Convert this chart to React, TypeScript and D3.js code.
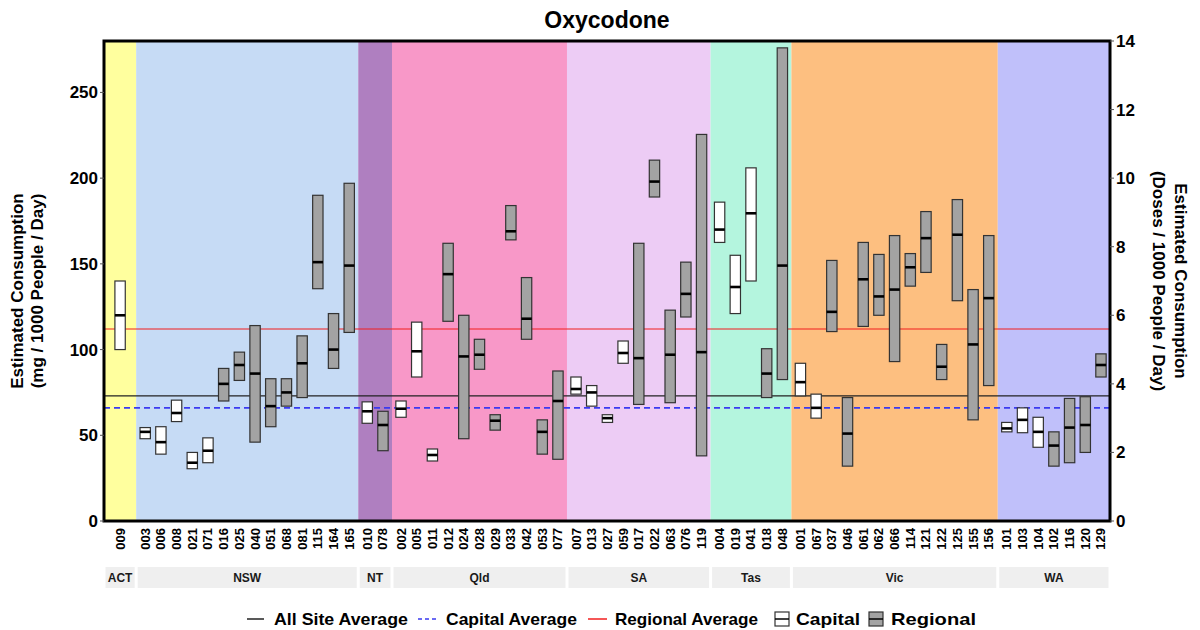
import React from 'react';
import * as d3 from 'd3';

// sites, ordered as on the x axis
const siteIds = [
  '009',
  '003', '006', '008', '021', '071', '016', '025', '040', '051', '068', '081', '115', '164', '165',
  '010', '078',
  '002', '005', '011', '012', '024', '028', '029', '033', '042', '053', '077',
  '007', '013', '027', '059', '017', '022', '063', '076', '119',
  '004', '019', '041', '018', '048',
  '001', '067', '037', '046', '061', '062', '066', '114', '121', '122', '125', '155', '156',
  '101', '103', '104', '102', '116', '120', '129',
];
const siteState = [
  'ACT',
  ...Array(14).fill('NSW'),
  'NT', 'NT',
  ...Array(11).fill('Qld'),
  ...Array(9).fill('SA'),
  ...Array(5).fill('Tas'),
  ...Array(13).fill('Vic'),
  ...Array(7).fill('WA'),
];
// C = capital, R = regional
const siteType = [
  'C',
  'C', 'C', 'C', 'C', 'C', 'R', 'R', 'R', 'R', 'R', 'R', 'R', 'R', 'R',
  'C', 'R',
  'C', 'C', 'C', 'R', 'R', 'R', 'R', 'R', 'R', 'R', 'R',
  'C', 'C', 'C', 'C', 'R', 'R', 'R', 'R', 'R',
  'C', 'C', 'C', 'R', 'R',
  'C', 'C', 'R', 'R', 'R', 'R', 'R', 'R', 'R', 'R', 'R', 'R', 'R',
  'C', 'C', 'C', 'R', 'R', 'R', 'R',
];
// mg / 1000 people / day
const lows = [
  100,
  48, 39, 58, 30.5, 34, 70, 82, 46, 55, 67, 72, 135.5, 89, 110,
  57, 41,
  60.5, 84, 35, 116.5, 48, 88.5, 53, 164, 106, 39, 36,
  74, 67, 57.5, 92, 68, 189, 69, 119, 38,
  162.5, 121, 140, 72, 82.5,
  73, 60, 110.5, 32, 113.5, 120, 93, 137, 145, 82.5, 128.5, 59, 79,
  52, 51.5, 43, 32, 34, 40, 84,
];
const medians = [
  120,
  52, 46, 63, 34, 41, 80, 91, 86, 67, 75, 92, 151, 100, 149,
  64, 56,
  65.5, 99, 38.5, 144, 96, 97, 58.5, 169, 118, 52, 70,
  77, 75, 60, 98, 95, 198, 97, 132.5, 98.5,
  170, 136.5, 179.5, 86, 149,
  81, 66, 122, 51, 141, 131, 135, 148, 165, 90, 167, 103, 130,
  54, 59, 52, 44, 54.5, 56, 91,
];
const highs = [
  140,
  54.5, 55, 70.5, 40, 48.5, 89, 98.5, 114, 83, 83, 108, 190, 121, 197,
  69.5, 64,
  70, 116, 42, 162, 120, 106, 62, 184, 142, 59, 87.5,
  84, 79, 62, 105, 162, 210.5, 123, 151, 225.5,
  186, 155, 206, 100.5, 276,
  92, 74, 152, 72, 162.5, 155.5, 166.5, 156, 180.5, 103, 187.5, 135, 166.5,
  57.5, 66, 60.5, 52, 71.5, 72.5, 97.5,
];

const states = ['ACT', 'NSW', 'NT', 'Qld', 'SA', 'Tas', 'Vic', 'WA'];
const stateColors = ['#FFFF9E', '#C6DBF5', '#AF7FC0', '#F898C8', '#EDCCF5', '#B4F5DE', '#FDBF80', '#C0C0FA'];

const allSiteAvg = 73;
const capitalAvg = 66;
const regionalAvg = 112;

const leftTicks = [0, 50, 100, 150, 200, 250];
const rightTicks = [0, 2, 4, 6, 8, 10, 12, 14];

const W = 1200;
const H = 630;
const M = { left: 104, right: 1110, top: 41, bottom: 521 };
const FONT = '"Liberation Sans", Arial, sans-serif';

export default function App() {
  // panel widths in site units (a single-site panel gets a bit more room)
  const panels = states.map((s) => {
    const n = siteState.filter((d) => d === s).length;
    return { state: s, n, width: Math.max(n, 1.9) + 0.15 };
  });
  let acc = 0;
  const panelStart: Record<string, number> = {};
  panels.forEach((p) => {
    panelStart[p.state] = acc;
    acc += p.width;
  });
  const total = acc;

  const x = d3.scaleLinear().domain([0, total]).range([M.left, M.right]);
  const y = d3.scaleLinear().domain([0, 280]).range([M.bottom, M.top]);
  const y2 = d3.scaleLinear().domain([0, 14]).range([M.bottom, M.top]);
  const unit = x(1) - x(0);

  const idxInState: number[] = [];
  const seen: Record<string, number> = {};
  siteState.forEach((s, i) => {
    idxInState[i] = seen[s] ?? 0;
    seen[s] = idxInState[i] + 1;
  });
  const siteX = siteIds.map((_, i) => {
    const p = panels.find((q) => q.state === siteState[i])!;
    return x(panelStart[p.state] + (p.width - p.n) / 2 + idxInState[i] + 0.5);
  });
  const boxW = unit * 0.66;

  return (
    <svg width={W} height={H} style={{ position: 'absolute', left: 0, top: 0, background: '#fff' }} fontFamily={FONT}>
      <text x={(M.left + M.right) / 2} y={28} textAnchor="middle" fontSize={23} fontWeight="bold">Oxycodone</text>

      {/* panel backgrounds */}
      {panels.map((p, i) => (
        <rect key={p.state} x={x(panelStart[p.state])} y={M.top} width={x(p.width) - x(0)} height={M.bottom - M.top} fill={stateColors[i]} />
      ))}

      {/* averages */}
      <line x1={M.left} x2={M.right} y1={y(regionalAvg)} y2={y(regionalAvg)} stroke="#f21f1f" strokeWidth={1.2} />
      <line x1={M.left} x2={M.right} y1={y(allSiteAvg)} y2={y(allSiteAvg)} stroke="#222" strokeWidth={1.2} />
      <line x1={M.left} x2={M.right} y1={y(capitalAvg)} y2={y(capitalAvg)} stroke="#3a3af0" strokeWidth={1.6} strokeDasharray="6,4" />

      {/* boxes */}
      {siteIds.map((id, i) => (
        <g key={id + i}>
          <rect x={siteX[i] - boxW / 2} y={y(highs[i])} width={boxW} height={y(lows[i]) - y(highs[i])}
            fill={siteType[i] === 'C' ? '#ffffff' : '#a3a3a3'} stroke="#333" strokeWidth={1.2} />
          <line x1={siteX[i] - boxW / 2} x2={siteX[i] + boxW / 2} y1={y(medians[i])} y2={y(medians[i])} stroke="#000" strokeWidth={2.6} />
        </g>
      ))}

      {/* frame */}
      <rect x={M.left} y={M.top} width={M.right - M.left} height={M.bottom - M.top} fill="none" stroke="#000" strokeWidth={3} />

      {/* left axis */}
      {leftTicks.map((t) => (
        <g key={'l' + t}>
          <line x1={M.left - 4} x2={M.left} y1={y(t)} y2={y(t)} stroke="#555" strokeWidth={1} />
          <text x={M.left - 6} y={y(t) + 6} textAnchor="end" fontSize={17} fontWeight="bold">{t}</text>
        </g>
      ))}
      {/* right axis */}
      {rightTicks.map((t) => (
        <g key={'r' + t}>
          <line x1={M.right} x2={M.right + 4} y1={y2(t)} y2={y2(t)} stroke="#555" strokeWidth={1} />
          <text x={M.right + 6} y={y2(t) + 6} textAnchor="start" fontSize={17} fontWeight="bold">{t}</text>
        </g>
      ))}

      <g transform={`translate(23, ${(M.top + M.bottom) / 2 + 10}) rotate(-90)`}>
        <text textAnchor="middle" fontSize={17} fontWeight="bold">Estimated Consumption</text>
        <text y={20} textAnchor="middle" fontSize={17} fontWeight="bold">(mg / 1000 People / Day)</text>
      </g>
      <g transform={`translate(1175, ${(M.top + M.bottom) / 2}) rotate(90)`}>
        <text textAnchor="middle" fontSize={17} fontWeight="bold">Estimated Consumption</text>
        <text y={22} textAnchor="middle" fontSize={17} fontWeight="bold">(Doses / 1000 People / Day)</text>
      </g>

      {/* site labels */}
      {siteIds.map((id, i) => (
        <text key={'s' + i} transform={`translate(${siteX[i] + 4.5}, 528) rotate(-90)`} textAnchor="end" fontSize={13} fontWeight="bold">{id}</text>
      ))}

      {/* state strips */}
      {panels.map((p) => {
        const x0 = x(panelStart[p.state]) + 1.5;
        const x1 = x(panelStart[p.state] + p.width) - 1.5;
        return (
          <g key={'st' + p.state}>
            <rect x={x0} y={567} width={x1 - x0} height={21} fill="#efefef" />
            <text x={(x0 + x1) / 2} y={582} textAnchor="middle" fontSize={12} fontWeight="bold" fill="#1a1a1a">{p.state}</text>
          </g>
        );
      })}

      {/* legend */}
      <g fontSize={17} fontWeight="bold">
        <line x1={247} x2={264} y1={619} y2={619} stroke="#222" strokeWidth={1.5} />
        <text x={274} y={625} textLength={134} lengthAdjust="spacingAndGlyphs">All Site Average</text>
        <line x1={418} x2={438} y1={619} y2={619} stroke="#3a3af0" strokeWidth={1.6} strokeDasharray="4,3" />
        <text x={446} y={625} textLength={131} lengthAdjust="spacingAndGlyphs">Capital Average</text>
        <line x1={588} x2={607} y1={619} y2={619} stroke="#f21f1f" strokeWidth={1.5} />
        <text x={615} y={625} textLength={143} lengthAdjust="spacingAndGlyphs">Regional Average</text>
        <rect x={775} y={612} width={14} height={14} fill="#fff" stroke="#333" strokeWidth={1.2} />
        <line x1={775} x2={789} y1={619} y2={619} stroke="#000" strokeWidth={1.5} />
        <text x={796} y={625} textLength={64} lengthAdjust="spacingAndGlyphs">Capital</text>
        <rect x={869} y={612} width={14} height={14} fill="#a3a3a3" stroke="#333" strokeWidth={1.2} />
        <line x1={869} x2={883} y1={619} y2={619} stroke="#000" strokeWidth={1.5} />
        <text x={891} y={625} textLength={85} lengthAdjust="spacingAndGlyphs">Regional</text>
      </g>
    </svg>
  );
}
